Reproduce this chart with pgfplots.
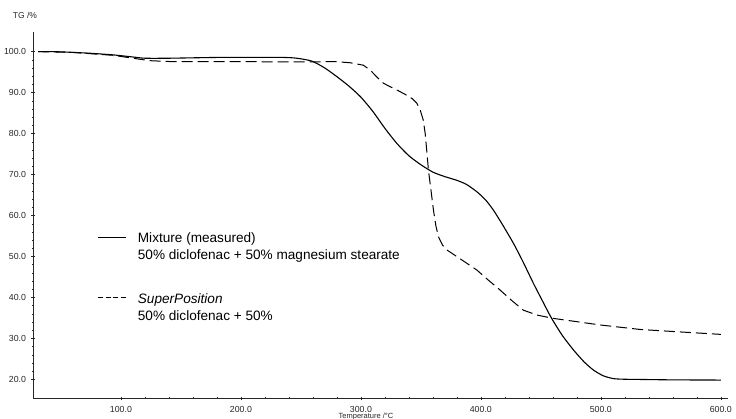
\documentclass[border=0pt]{standalone}
\usepackage{pgfplots}
\pgfplotsset{compat=1.18}
\usepackage{fontspec}
\setmainfont{Liberation Sans}
\begin{document}
\begin{tikzpicture}[x=1pt,y=1pt]
\useasboundingbox (0,0) rectangle (736,418);
\begin{axis}[
  at={(33pt,19.7pt)}, anchor=south west,
  scale only axis, width=695pt, height=366.3pt,
  xmin=26.7, xmax=606, ymin=15.4, ymax=104.8,
  axis lines=left,
  axis line style={-, line width=0.9pt, black!85},
  xtick={100,200,...,600}, ytick={20,30,...,100},
  minor x tick num=4, minor y tick num=4,
  tick align=center,
  major tick length=3.5pt, minor tick length=2pt,
  tick style={black!85, line width=0.5pt},
  /pgf/number format/.cd, fixed, fixed zerofill, precision=1, assume math mode=true,
  /pgfplots/.cd,
  ticklabel style={font=\fontsize{8.8}{10}\selectfont, text=black!85},
  yticklabel style={inner sep=0pt, xshift=-5pt},
  xticklabel style={inner sep=0pt, yshift=-6pt},
  clip=false,
]
\addplot[black, line width=1.1pt, smooth, tension=0.4] coordinates {
(31,100) (45,100) (58,99.85) (75,99.6) (94,99.2) (110,98.7) (120,98.4) (140,98.4)
(183,98.6) (233,98.6) (245,98.45) (253,98.1) (260,97.6) (270,96.0) (280,93.9)
(290,91.6) (300,88.9) (310,85.4) (320,81.3) (330,77.6) (340,74.6) (350,72.4)
(360,70.6) (370,69.5) (380,68.6) (388,67.6) (396.7,65.8) (404,63.8) (410.5,61.3)
(418,57.8) (427.2,53.2) (435,48.8) (443.9,43.4) (452,38.8) (459,34.9) (468,30.7)
(477.2,27.2) (486,24.3) (493.8,22.3) (502,20.9) (510.5,20.2) (520,20.05)
(532.8,20.0) (560,19.9) (600,19.85)
};
\addplot[black, line width=1.0pt, dash pattern=on 11pt off 5pt] coordinates {
(31,100) (58,99.85) (94,99.1) (110,98.4) (124,97.8) (140,97.6) (191,97.6)
(230,97.5) (260,97.5) (277,97.6) (291,97.3) (302,96.7) (307.8,95.5) (313,93.9)
(318.8,92.3) (324,91.5) (331,90.5) (338,89.4) (343,88.5) (346.7,87.4) (349.4,85.8)
(352,83.3) (353.6,80) (355,75.5) (356.3,71.1) (358.5,66) (360.5,61.3) (362.5,57.5)
(364.7,54.8) (368,52.8) (371.7,51.6) (384,49.2) (396.7,46.7) (406,44.3)
(416.1,41.8) (426,39.2) (435.5,36.9) (447,35.7) (460.5,34.9) (480,34.1)
(499.4,33.3) (532.8,32.2) (566,31.6) (600,31.0)
};
\end{axis}
% legend
\draw[black, line width=0.8pt] (98.3,181) -- (125.5,181);
\node[anchor=base west, inner sep=0pt, font=\fontsize{13.6}{16}\selectfont] at (137.7,175) {Mixture (measured)};
\node[anchor=base west, inner sep=0pt, font=\fontsize{13.6}{16}\selectfont] at (137.7,158) {50\% diclofenac + 50\% magnesium stearate};
\draw[black, line width=0.8pt, dash pattern=on 5pt off 2.5pt] (98.3,121) -- (127,121);
\node[anchor=base west, inner sep=0pt, font=\fontsize{13.6}{16}\selectfont\itshape] at (137.7,115) {SuperPosition};
\node[anchor=base west, inner sep=0pt, font=\fontsize{13.6}{16}\selectfont] at (137.7,98) {50\% diclofenac + 50\%};
% axis titles
\node[inner sep=0pt, font=\fontsize{8.5}{10}\selectfont, text=black!85] at (25,403) {TG /\%};
\node[anchor=north, inner sep=0pt, font=\fontsize{7.5}{9}\selectfont, text=black!85] at (366,5.5) {Temperature /°C};
\end{tikzpicture}
\end{document}
